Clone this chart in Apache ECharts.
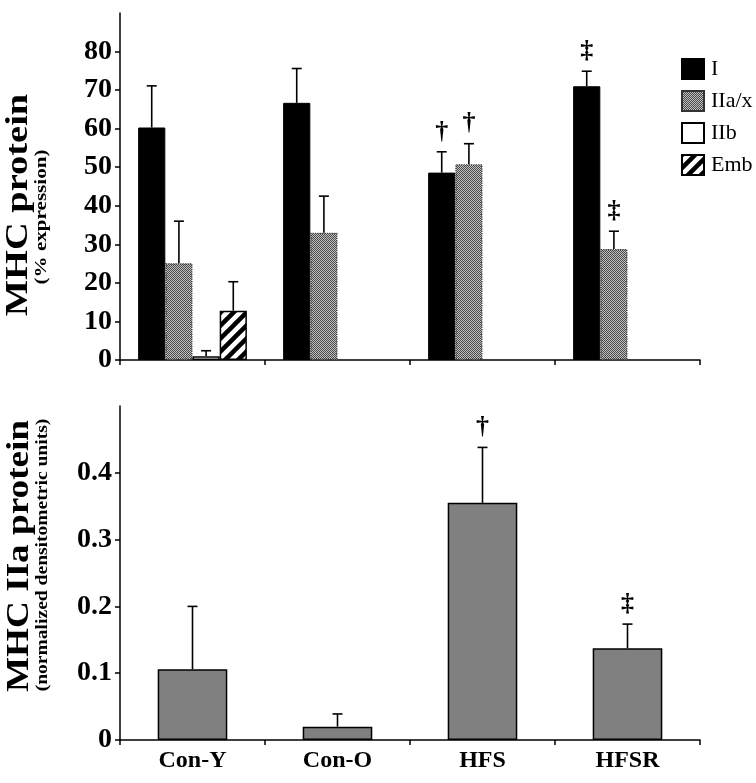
<!DOCTYPE html>
<html>
<head>
<meta charset="utf-8">
<script src="https://cdn.jsdelivr.net/npm/echarts@6/dist/echarts.min.js"></script>
<style>
html,body{margin:0;padding:0;background:#fff;}
#chart{width:756px;height:783px;}
</style>
</head>
<body>
<div id="chart"></div>
<script>
// ---------- data ----------
const categories = ['Con-Y', 'Con-O', 'HFS', 'HFSR'];
const seriesNames = ['I', 'IIa/x', 'IIb', 'Emb'];
const typeI = [60.3, 66.7, 48.6, 71.0];
const typeIErr = [10.8, 8.9, 5.4, 3.9];
const typeIIax = [25.1, 33.0, 50.8, 28.8];
const typeIIaxErr = [10.9, 9.5, 5.3, 4.6];
const typeIIb = [1.0, null, null, null];
const typeIIbErr = [1.4, null, null, null];
const typeEmb = [12.8, null, null, null];
const typeEmbErr = [7.5, null, null, null];
const marksI = ['', '', '†', '‡'];
const marksIIax = ['', '', '†', '‡'];
const marksIIb = ['', '', '', ''];
const marksEmb = ['', '', '', ''];
const mhcIIa = [0.106, 0.020, 0.355, 0.1375];
const mhcIIaErr = [0.094, 0.019, 0.083, 0.036];
const marksIIa = ['', '', '†', '‡'];
const topTicks = [0, 10, 20, 30, 40, 50, 60, 70, 80];
const bottomTicks = [0, 0.1, 0.2, 0.3, 0.4];

// ---------- patterns ----------
function stipple() {
  const c = document.createElement('canvas');
  c.width = 2; c.height = 2;
  const g = c.getContext('2d');
  g.fillStyle = '#c0c0c0'; g.fillRect(0, 0, 2, 2);
  g.fillStyle = '#4a4a4a'; g.fillRect(0, 0, 1, 1); g.fillRect(1, 1, 1, 1);
  return c;
}
function stripes() {
  const s = 13;
  const c = document.createElement('canvas');
  c.width = s; c.height = s;
  const g = c.getContext('2d');
  g.fillStyle = '#fff'; g.fillRect(0, 0, s, s);
  g.strokeStyle = '#000'; g.lineWidth = 4.5;
  g.beginPath();
  g.moveTo(-s, 2 * s); g.lineTo(2 * s, -s);
  g.moveTo(-2 * s, 2 * s); g.lineTo(s, -s);
  g.moveTo(0, 2 * s); g.lineTo(3 * s, -s);
  g.stroke();
  return c;
}
const stippleFill = { image: stipple(), repeat: 'repeat' };
const stripeFill = { image: stripes(), repeat: 'repeat' };

const FONT = 'Liberation Serif';
const topGap = 0.25;

// error bar items for top chart
const topSeriesVals = [typeI, typeIIax, typeIIb, typeEmb];
const topSeriesErr = [typeIErr, typeIIaxErr, typeIIbErr, typeEmbErr];
const topSeriesMarks = [marksI, marksIIax, marksIIb, marksEmb];
const topErrItems = [];
const topErrMarks = [];
topSeriesVals.forEach((vals, s) => {
  vals.forEach((v, c) => {
    if (v == null) return;
    topErrItems.push([c, v, topSeriesErr[s][c], s]);
    topErrMarks.push(topSeriesMarks[s][c]);
  });
});
const botErrItems = mhcIIa.map((v, c) => [c, v, mhcIIaErr[c], 0]);

function errRenderer(nSeries, gap, marks) {
  return function (params, api) {
    const c = api.value(0), m = api.value(1), e = api.value(2), s = api.value(3);
    const base = api.coord([c, m]);
    const top = api.coord([c, m + e]);
    const catW = api.size([1, 0])[0];
    const bw = catW * (1 - gap) / nSeries;
    const x = base[0] + (s - (nSeries - 1) / 2) * bw;
    const st = { stroke: '#000', lineWidth: 1.6 };
    const children = [
      { type: 'line', shape: { x1: x, y1: base[1], x2: x, y2: top[1] }, style: st },
      { type: 'line', shape: { x1: x - 5, y1: top[1], x2: x + 5, y2: top[1] }, style: st }
    ];
    const mk = marks[params.dataIndex];
    if (mk) {
      children.push({
        type: 'text',
        style: { text: mk, x: x, y: top[1] - 7, align: 'center', verticalAlign: 'bottom',
                 font: 'bold 26px "' + FONT + '"', fill: '#000' }
      });
    }
    return { type: 'group', children: children };
  };
}

const axisLineStyle = { lineStyle: { color: '#000', width: 1.5 } };
const tickStyle = { show: true, length: 5, lineStyle: { color: '#000', width: 1.5 } };

function titleText(txt, x, y, size, stretch) {
  return { type: 'text', x: x, y: y, rotation: Math.PI / 2, scaleX: stretch, scaleY: 1,
    style: { text: txt, font: 'bold ' + size + 'px "' + FONT + '"', fill: '#000', align: 'center', verticalAlign: 'middle' } };
}

const option = {
  backgroundColor: '#fff',
  animation: false,
  grid: [
    { left: 120, right: 56, top: 13, height: 347 },
    { left: 120, right: 56, top: 406, height: 334 }
  ],
  legend: {
    orient: 'vertical', left: 676, top: 53,
    itemWidth: 22, itemHeight: 20, itemGap: 10,
    icon: 'rect',
    data: seriesNames,
    textStyle: { fontFamily: FONT, fontSize: 22, color: '#000', padding: [0, 0, 0, 2] }
  },
  xAxis: [
    { type: 'category', gridIndex: 0, data: categories,
      axisLine: axisLineStyle, axisTick: tickStyle, axisLabel: { show: false } },
    { type: 'category', gridIndex: 1, data: categories,
      axisLine: axisLineStyle, axisTick: tickStyle,
      axisLabel: { fontFamily: FONT, fontWeight: 'bold', fontSize: 24, color: '#000', margin: 9 } }
  ],
  yAxis: [
    { type: 'value', gridIndex: 0, min: 0, max: 90, interval: 10,
      axisLine: { show: true, lineStyle: { color: '#000', width: 1.5 } },
      axisTick: Object.assign({ customValues: topTicks }, tickStyle),
      splitLine: { show: false },
      axisLabel: { customValues: topTicks, fontFamily: FONT, fontWeight: 'bold', fontSize: 28, color: '#000', margin: 8 } },
    { type: 'value', gridIndex: 1, min: 0, max: 0.5, interval: 0.1,
      axisLine: { show: true, lineStyle: { color: '#000', width: 1.5 } },
      axisTick: Object.assign({ customValues: bottomTicks }, tickStyle),
      splitLine: { show: false },
      axisLabel: { customValues: bottomTicks, fontFamily: FONT, fontWeight: 'bold', fontSize: 28, color: '#000', margin: 8,
        formatter: v => (v === 0 ? '0' : v.toFixed(1)) } }
  ],
  series: [
    { name: 'I', type: 'bar', xAxisIndex: 0, yAxisIndex: 0, data: typeI,
      barGap: '0%', barCategoryGap: '25%',
      itemStyle: { color: '#000', borderColor: '#000', borderWidth: 1 } },
    { name: 'IIa/x', type: 'bar', xAxisIndex: 0, yAxisIndex: 0, data: typeIIax,
      barGap: '0%', barCategoryGap: '25%',
      itemStyle: { color: stippleFill, borderColor: '#333', borderWidth: 1.2, borderType: 'dotted' } },
    { name: 'IIb', type: 'bar', xAxisIndex: 0, yAxisIndex: 0, data: typeIIb,
      barGap: '0%', barCategoryGap: '25%',
      itemStyle: { color: '#fff', borderColor: '#000', borderWidth: 1.5 } },
    { name: 'Emb', type: 'bar', xAxisIndex: 0, yAxisIndex: 0, data: typeEmb,
      barGap: '0%', barCategoryGap: '25%',
      itemStyle: { color: stripeFill, borderColor: '#000', borderWidth: 1.5 } },
    { name: 'topErr', type: 'custom', xAxisIndex: 0, yAxisIndex: 0, data: topErrItems,
      renderItem: errRenderer(4, topGap, topErrMarks), z: 5, silent: true },
    { name: 'MHC IIa', type: 'bar', xAxisIndex: 1, yAxisIndex: 1, data: mhcIIa,
      barCategoryGap: '52%',
      itemStyle: { color: '#808080', borderColor: '#000', borderWidth: 1.5 } },
    { name: 'botErr', type: 'custom', xAxisIndex: 1, yAxisIndex: 1, data: botErrItems,
      renderItem: errRenderer(1, 0.52, marksIIa), z: 5, silent: true }
  ],
  graphic: [
    titleText('MHC protein', 19, 205, 31, 1.24),
    titleText('(% expression)', 42, 217, 17, 1.24),
    titleText('MHC IIa protein', 20, 556, 31, 1.2),
    titleText('(normalized densitometric units)', 43, 555, 17, 1.15)
  ]
};

const chart = echarts.init(document.getElementById('chart'), null, { renderer: 'canvas' });
chart.setOption(option);
</script>
</body>
</html>
